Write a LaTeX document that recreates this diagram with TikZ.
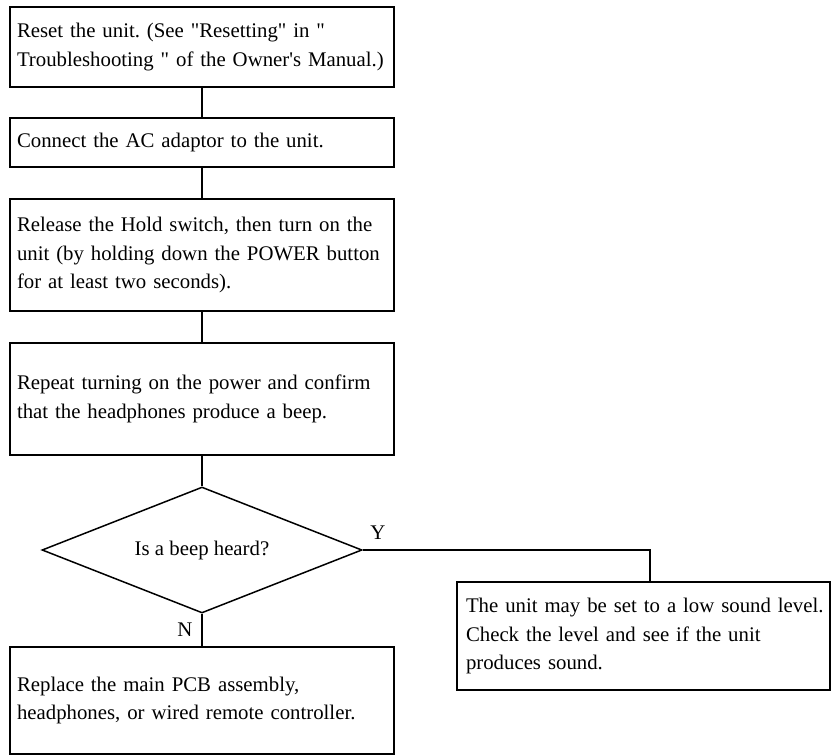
\documentclass[tikz,border=0pt]{standalone}
\usepackage{fontspec}
\setmainfont{Liberation Serif}[Ligatures=TeXOff]
\usetikzlibrary{shapes.geometric}
\newcommand{\boxline}[1]{\makebox[0pt][l]{#1}}
\begin{document}
\frenchspacing
\begin{tikzpicture}[x=1pt, y=-1pt, line width=1.5pt,
step node/.style={rectangle,draw,align=left,text width=370pt,inner xsep=7pt,inner ysep=0pt},
check node/.style={diamond,draw,aspect=2.5,inner sep=0pt,minimum width=320pt,minimum height=126pt},
side node/.style={rectangle,draw,align=left,text width=355pt,inner xsep=9pt,inner ysep=0pt}]
\useasboundingbox (0,0) rectangle (831,755);
\begin{scope}[every node/.style={font=\fontsize{20.8}{28.5}\selectfont}]
\node[step node,minimum height=80pt] (reset) at (202,47) {\boxline{Reset the unit. (See "Resetting" in "}\\\boxline{Troubleshooting " of the Owner's Manual.)}};%1
\node[step node,minimum height=49pt] (adaptor) at (202,142.5) {\boxline{Connect the AC adaptor to the unit.}};%2
\node[step node,minimum height=112pt] (power) at (202,255) {\boxline{Release the Hold switch, then turn on the}\\\boxline{unit (by holding down the POWER button}\\\boxline{for at least two seconds).}};%3
\node[step node,minimum height=112pt] (repeat) at (202,399) {\boxline{Repeat turning on the power and confirm}\\\boxline{that the headphones produce a beep.}};%4
\node[check node] (beep) at (202,550) {Is a beep heard?};%5
\node[side node,minimum height=108pt] (level) at (643.5,636) {\boxline{The unit may be set to a low sound level.}\\\boxline{Check the level and see if the unit}\\\boxline{produces sound.}};%6
\node[step node,minimum height=107pt] (replace) at (202,700.5) {\boxline{Replace the main PCB assembly,}\\\boxline{headphones, or wired remote controller.}};%7
\node (yes) at (378,533) {Y};
\node (no) at (185,630) {N};
\coordinate (bend) at (650,550);
\end{scope}
\begin{scope}[every edge/.style={draw=black,line width=1.5pt}]
\draw (reset) edge (adaptor);
\draw (adaptor) edge (power);
\draw (power) edge (repeat);
\draw (repeat) edge (beep);
\draw (beep) edge (replace);
\draw (beep.east) -- (bend) -- (bend |- level.north);
\end{scope}
\end{tikzpicture}
\end{document}
